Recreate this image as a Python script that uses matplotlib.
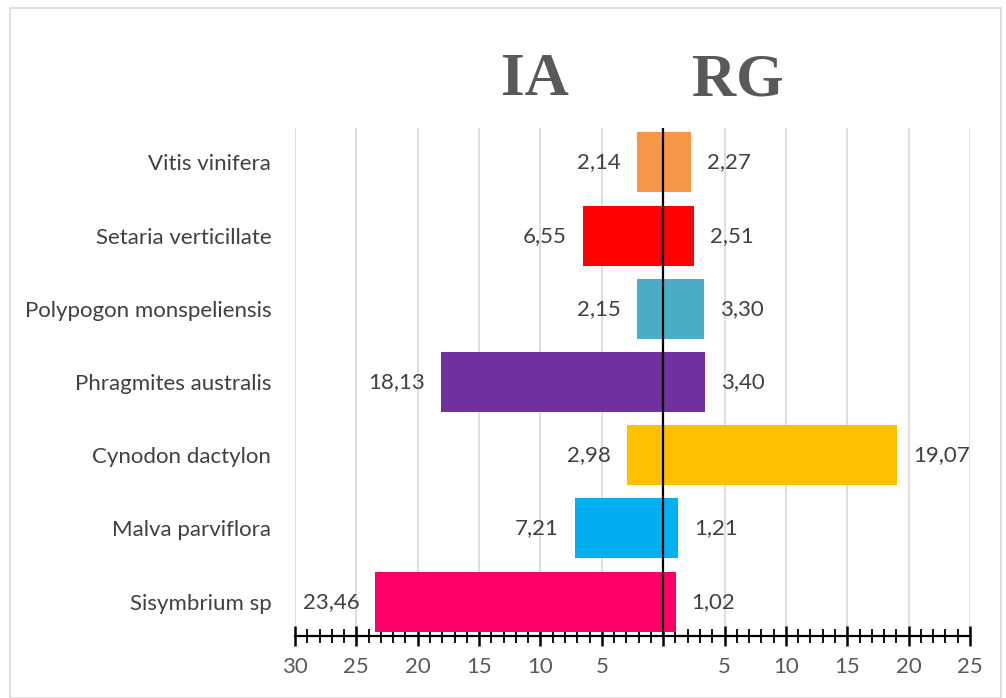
"""
Butterfly bar chart: IA (left) vs RG (right) per species.
"""

import matplotlib.pyplot as plt
import matplotlib.patches as mpatches
from matplotlib.ticker import MultipleLocator, FixedLocator, FuncFormatter

# ── Data ────────────────────────────────────────────────────────────────────
species = ["Sisymbrium sp", "Malva parviflora", "Cynodon dactylon",
           "Phragmites australis", "Polypogon monspeliensis",
           "Setaria verticillate", "Vitis vinifera"]
ia = [23.46, 7.21, 2.98, 18.13, 2.15, 6.55, 2.14]
rg = [1.02, 1.21, 19.07, 3.40, 3.30, 2.51, 2.27]
colors = ["#FF0066", "#00B0F0", "#FFC000", "#7030A0",
          "#4BACC6", "#FF0000", "#F79646"]

major_ticks = [-30, -25, -20, -15, -10, -5, 0, 5, 10, 15, 20, 25]

FONT = "Lato"
GREY = "#595959"
FS = 16

fig = plt.figure(figsize=(10.06, 6.98), dpi=100)
ax = fig.add_axes([0.2932, 0.0888, 0.671, 0.7278])

y = list(range(len(species)))
neg_ia = [-v for v in ia]
ax.barh(y, neg_ia, height=0.82, color=colors, zorder=2)
ax.barh(y, rg, height=0.82, color=colors, zorder=2)

fmt = lambda v: f"{v:.2f}".replace(".", ",")
for yi, a, r in zip(y, ia, rg):
    ax.annotate(fmt(a), xy=(-a, yi), xytext=(-11.5, 0), textcoords="offset points",
                ha="right", va="center", fontsize=FS, color="#404040", family=FONT)
    ax.annotate(fmt(r), xy=(r, yi), xytext=(11.5, 0), textcoords="offset points",
                ha="left", va="center", fontsize=FS, color="#404040", family=FONT)

ax.set_xlim(-30, 25)
ax.set_ylim(-0.47, len(species) - 0.53)

# gridlines + zero line
for t in major_ticks:
    if t != 0:
        ax.axvline(t, color="#D9D9D9", lw=1.2, zorder=1)
ax.axvline(0, color="black", lw=1.6, zorder=3)

for s in ["top", "right", "left"]:
    ax.spines[s].set_visible(False)
ax.spines["bottom"].set_linewidth(1.6)
ax.spines["bottom"].set_zorder(4)

ax.xaxis.set_major_locator(FixedLocator(major_ticks))
ax.xaxis.set_minor_locator(MultipleLocator(1))
ax.xaxis.set_major_formatter(FuncFormatter(lambda v, p: "" if v == 0 else f"{abs(v):.0f}"))
ax.tick_params(axis="x", which="major", direction="inout", length=14, width=1.8,
               labelsize=FS, labelcolor=GREY, pad=8)
ax.tick_params(axis="x", which="minor", direction="inout", length=10, width=1.3)
for lab in ax.get_xticklabels():
    lab.set_family(FONT)

ax.set_yticks(y)
ax.set_yticklabels(species, family=FONT, fontsize=FS, color="#404040")
ax.tick_params(axis="y", length=0, pad=17)

# titles
fig.text(535 / 1006, 1 - 80 / 698, "IA", ha="center", va="center", fontsize=44,
         fontweight="bold", family="Liberation Serif", color=GREY)
fig.text(738 / 1006, 1 - 80 / 698, "RG", ha="center", va="center", fontsize=44,
         fontweight="bold", family="Liberation Serif", color=GREY)

# outer chart border
fig.patches.append(mpatches.Rectangle((10 / 1006, 0.0), 0.995 - 10 / 1006, 1 - 8 / 698,
                                      transform=fig.transFigure, fill=False,
                                      edgecolor="#D9D9D9", lw=1.2))

fig.savefig("out.png", dpi=100)
